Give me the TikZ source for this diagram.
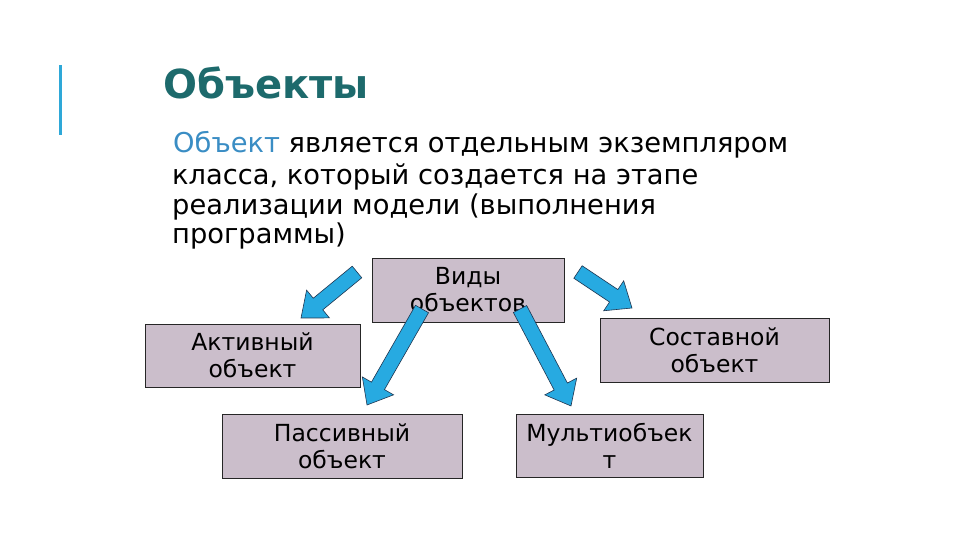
\documentclass[tikz,border=0pt]{standalone}
\usepackage{fontspec}
\setmainfont{DejaVu Sans}
\usetikzlibrary{calc}

\definecolor{titleteal}{HTML}{1D6A6C}
\definecolor{objblue}{HTML}{3A8DC4}
\definecolor{barblue}{HTML}{2EA8D8}
\definecolor{boxlilac}{HTML}{CBBECB}
\definecolor{arrowcyan}{HTML}{27AAE1}
\definecolor{arrowedge}{HTML}{1F3550}

% block arrow from coordinate #1 to coordinate #2
\newcommand\blockarrow[2]{%
  \path let \p1=($(#2)-(#1)$) in \pgfextra{%
    \pgfmathsetmacro\barang{atan2(\y1,\x1)}%
    \pgfmathsetmacro\barlen{veclen(\x1,\y1)}%
    \xdef\barang{\barang}\xdef\barlen{\barlen}};
  \begin{scope}[shift={(#1)}, rotate=\barang]
    \draw[bigarrow] (0,-7.5) -- (\barlen-22,-7.5) -- (\barlen-22,-18) -- (\barlen,0)
      -- (\barlen-22,18) -- (\barlen-22,7.5) -- (0,7.5) -- cycle;
  \end{scope}}

\begin{document}
\begin{tikzpicture}[x=1pt, y=1pt,
    kind/.style={draw=black!85, fill=boxlilac, line width=0.8pt, align=center,
      font=\fontsize{23.5}{27}\selectfont, inner sep=0pt},
    bigarrow/.style={fill=arrowcyan, draw=arrowedge, line width=0.6pt, line join=miter},
    body/.style={anchor=base west, inner sep=0pt, font=\fontsize{27.3}{30}\selectfont}]

    \useasboundingbox (0,0) rectangle (960,-540);

    % Title and bar
    \fill[barblue] (58.5,-65) rectangle (61.5,-135);
    \node[anchor=base west, inner sep=0pt, text=titleteal,
      font=\fontsize{40}{48}\selectfont\bfseries] (title) at (163,-99) {Объекты};

    % Definition text
    \node[body] (l1) at (173,-153) {\textcolor{objblue}{Объект} является отдельным экземпляром};
    \node[body] (l2) at (172,-184) {класса, который создается на этапе};
    \node[body] (l3) at (172,-214) {реализации модели (выполнения};
    \node[body] (l4) at (172,-243) {программы)};

    % Kinds of objects
    \node[kind, minimum width=192pt, minimum height=64pt] (kinds) at (468,-290) {Виды\\объектов};
    \node[kind, minimum width=215pt, minimum height=63pt] (active) at (252.5,-355.5) {Активный\\объект};
    \node[kind, minimum width=229pt, minimum height=64pt] (composite) at (714.5,-350) {Составной\\объект};
    \node[kind, minimum width=240pt, minimum height=64pt] (passive) at (342,-446) {Пассивный\\объект};
    \node[kind, minimum width=187pt, minimum height=63pt] (multi) at (609.5,-445.5) {Мультиобъек\\т};

    % Arrows
    \coordinate (a1s) at (357,-272);  \coordinate (a1e) at (301,-318);
    \coordinate (a2s) at (422,-309);  \coordinate (a2e) at (367,-405);
    \coordinate (a3s) at (520,-309);  \coordinate (a3e) at (571,-406);
    \coordinate (a4s) at (578,-272);  \coordinate (a4e) at (632,-308);
    \blockarrow{a1s}{a1e}
    \blockarrow{a2s}{a2e}
    \blockarrow{a3s}{a3e}
    \blockarrow{a4s}{a4e}

\end{tikzpicture}
\end{document}
